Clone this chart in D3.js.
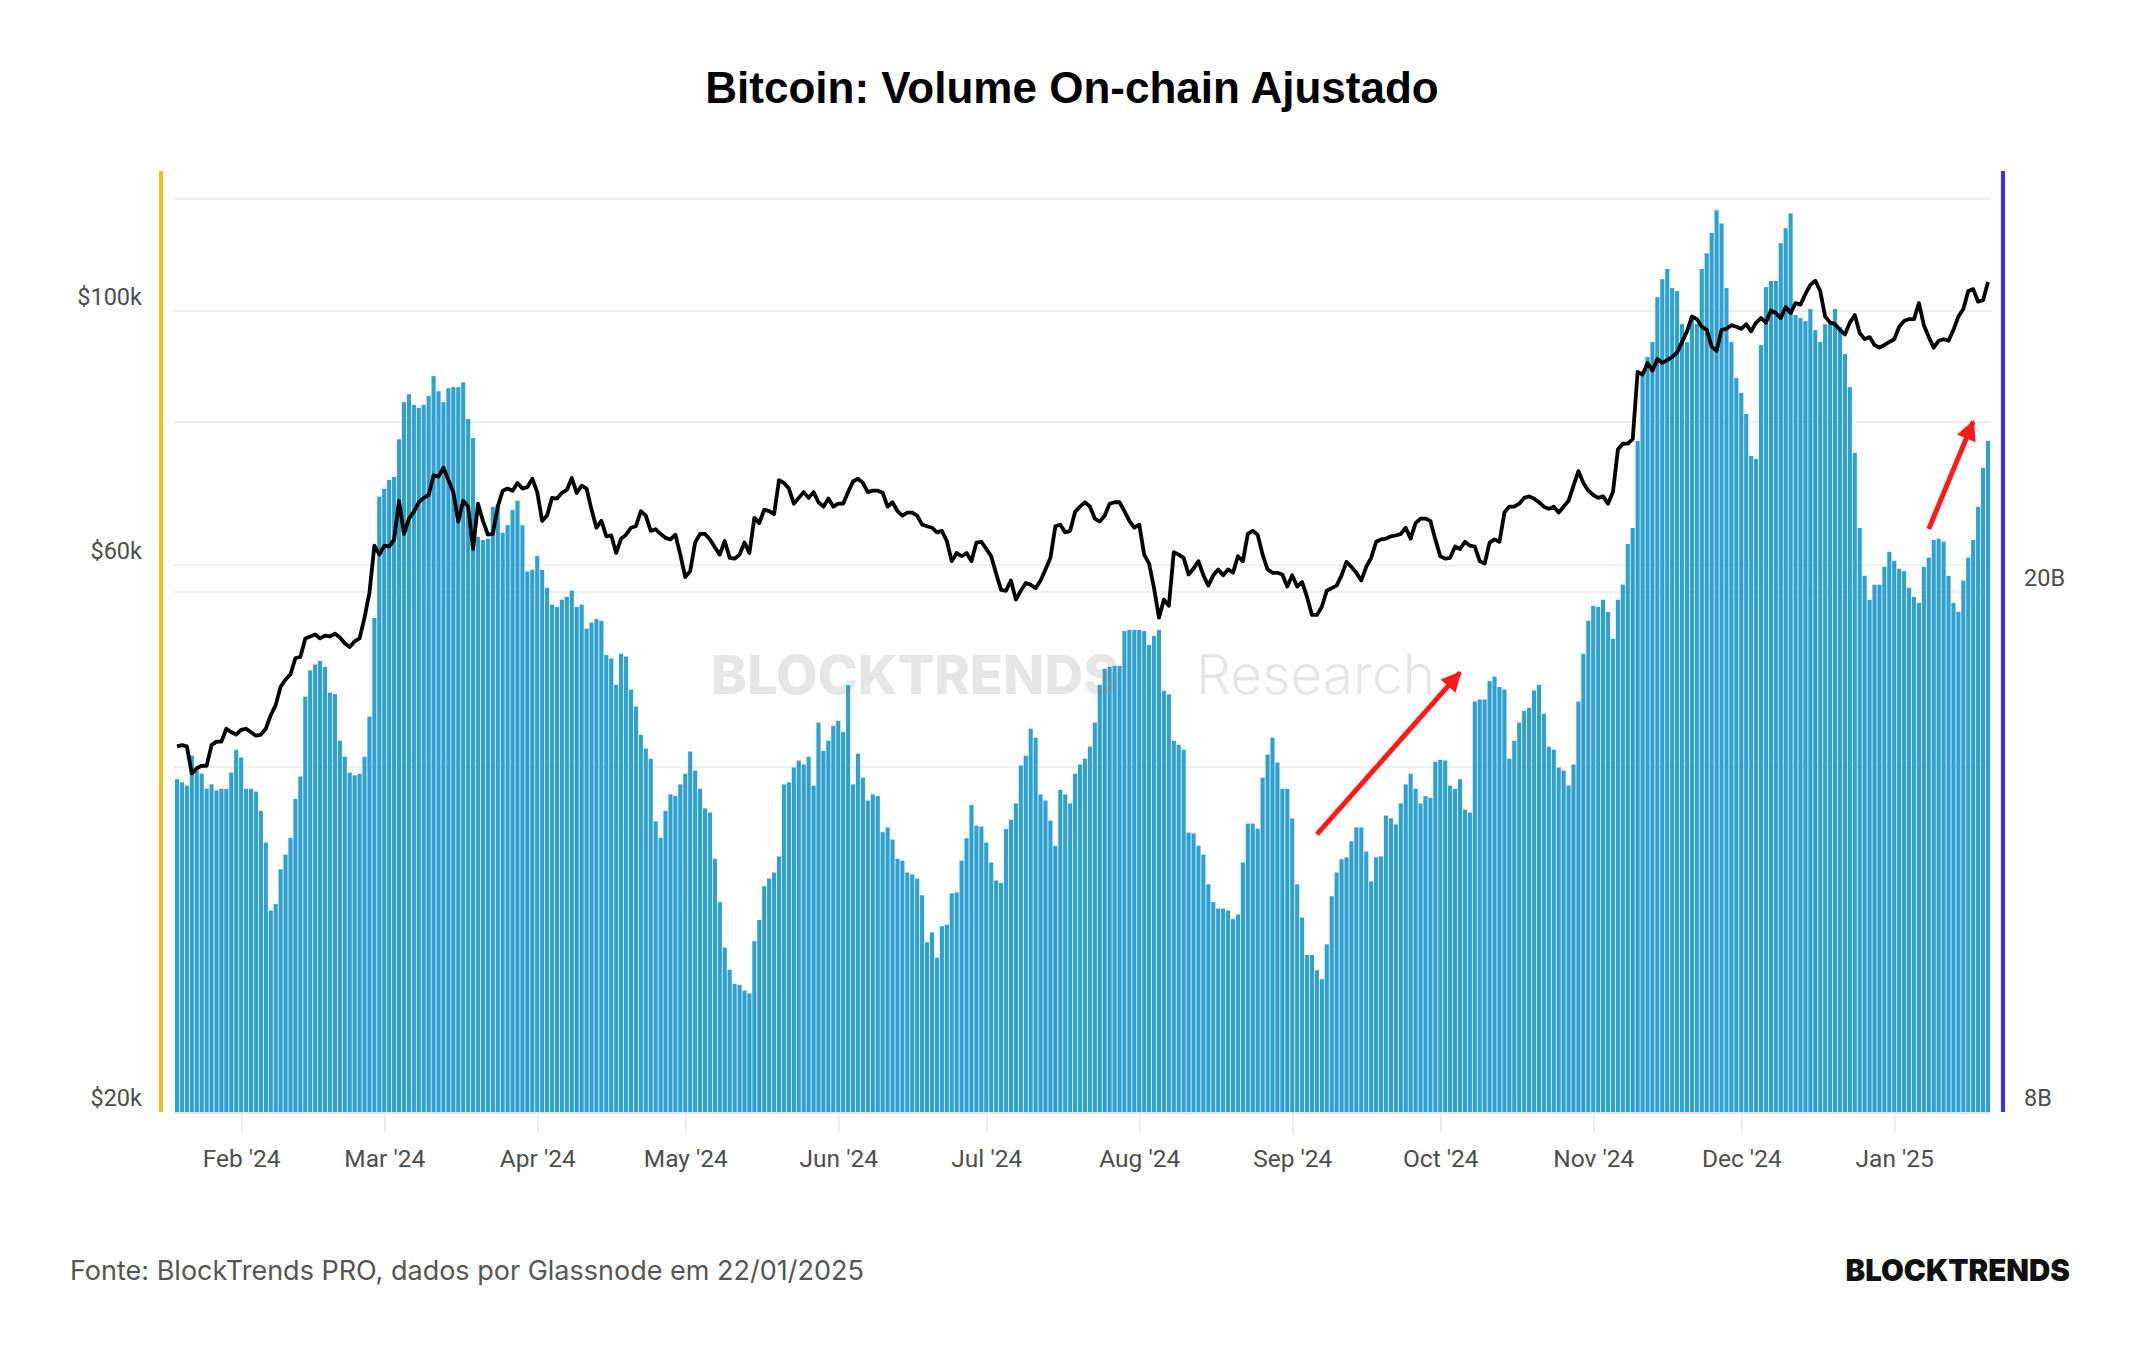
<!DOCTYPE html>
<html>
<head>
<meta charset="utf-8">
<script src="https://cdn.jsdelivr.net/npm/d3@7"></script>
<style>
  body { margin: 0; background: #fff; }
  svg { display: block; }
</style>
</head>
<body>
<div id="chart"></div>
<script>
// Dados (diários, a partir de 19/01/2024)
const startDate = "2024-01-19";

// Volume on-chain ajustado, em bilhões de USD
const volumeB = [
  14.38, 14.30, 14.22, 14.99, 14.60, 14.52, 14.14, 14.25, 14.10, 14.14,
  14.14, 14.55, 15.15, 14.94, 14.14, 14.14, 14.07, 13.60, 12.86, 11.41,
  11.54, 12.27, 12.59, 12.97, 13.89, 14.45, 16.63, 17.42, 17.60, 17.71,
  17.53, 16.75, 16.71, 15.39, 14.96, 14.55, 14.48, 14.52, 14.96, 16.06,
  19.11, 23.66, 23.99, 24.37, 24.50, 26.18, 27.95, 28.34, 27.81, 27.66,
  27.81, 28.25, 29.26, 28.49, 27.95, 28.64, 28.70, 28.70, 28.94, 27.14,
  26.24, 22.04, 21.92, 21.97, 23.24, 23.31, 22.20, 22.50, 23.11, 23.49,
  22.50, 20.74, 20.80, 21.31, 20.80, 20.15, 19.56, 19.48, 19.73, 19.83,
  20.05, 19.48, 19.56, 18.75, 18.95, 19.07, 19.01, 17.90, 17.79, 16.98,
  17.94, 17.85, 16.84, 16.35, 15.55, 15.18, 14.91, 13.35, 12.97, 13.60,
  14.00, 13.96, 14.25, 14.52, 15.10, 14.60, 14.14, 13.66, 13.56, 12.50,
  11.58, 10.69, 10.28, 10.03, 10.01, 9.91, 9.86, 10.81, 11.22, 11.91,
  12.07, 12.20, 12.55,
  14.25, 14.30, 14.68, 14.86, 14.76, 14.96, 14.22, 15.89, 15.12, 15.39,
  15.80, 15.94, 15.63, 16.97, 14.25, 15.04, 14.42, 13.85, 14.00, 13.96,
  13.10, 13.21, 12.93, 12.50, 12.46, 12.20, 12.16, 12.07, 11.72, 10.79,
  10.98, 10.50, 11.10, 11.13, 11.76, 11.78, 12.46, 12.96, 13.74, 13.25,
  13.23, 12.86, 12.42, 12.03, 11.98, 13.17, 13.39, 13.78, 14.73, 14.99,
  15.72, 15.47, 14.00, 13.85, 13.37, 12.79, 14.11, 14.00, 13.78, 14.52,
  14.76, 14.91, 15.23, 15.89, 16.98, 17.47, 17.53, 17.56, 17.56, 18.67,
  18.71, 18.71, 18.71, 18.67, 18.22, 18.51, 18.71, 16.81, 16.70, 15.39,
  15.28, 15.15, 13.09, 13.07, 12.79, 12.59, 11.95, 11.58, 11.45, 11.45,
  11.41, 11.24, 11.33, 12.42, 13.30, 13.30, 13.18, 14.42, 15.02, 15.47,
  14.81, 14.14, 14.14, 13.42, 11.95, 11.27, 10.55, 10.55, 10.27, 10.11,
  10.75, 11.70, 12.20, 12.49, 12.53, 12.89, 13.21, 13.21, 12.66, 12.01,
  12.53, 12.55,
  13.49, 13.42, 13.28, 13.78, 14.25, 14.52, 14.14, 13.78, 13.96, 13.92,
  14.83, 14.88, 14.86, 14.22, 14.14, 14.38, 13.63, 13.56, 16.49, 16.55,
  16.55, 17.10, 17.23, 16.92, 16.84, 14.91, 15.39, 15.89, 16.22, 16.31,
  16.81, 16.98, 16.14, 15.23, 15.15, 14.68, 14.60, 14.22, 14.76, 16.49,
  17.94, 19.01, 19.52, 19.48, 19.73, 19.31, 18.42, 19.73, 20.26, 21.77,
  22.39, 26.10, 29.31, 30.26, 31.07, 33.63, 34.71, 35.34, 34.17, 33.99,
  32.07, 31.07, 32.58, 32.07, 35.34, 36.33, 37.66, 39.19, 38.29, 34.17,
  31.07, 29.16, 28.40, 27.37, 25.42, 25.29, 30.91, 34.23, 34.60, 34.60,
  36.99, 37.97, 38.98, 32.58, 32.41, 32.24, 32.93, 31.73, 31.07, 32.07,
  32.07, 32.93, 31.90, 30.42, 28.70, 25.56, 22.39, 20.58, 19.73, 20.26,
  20.26, 20.91, 21.47, 21.13, 20.84, 20.75, 20.15, 19.83, 19.62, 20.91,
  21.25, 21.92, 21.97, 21.86, 20.58, 19.62, 19.31, 20.41, 21.25, 21.92,
  23.24, 24.89, 26.10
];

// Preço do Bitcoin, em milhares de USD
const priceK = [
  41.7, 41.8, 41.7, 39.5, 39.9, 40.1, 40.1, 41.8, 42.1, 42.1,
  43.2, 42.9, 42.7, 43.1, 43.2, 42.9, 42.6, 42.7, 43.2, 44.4,
  45.3, 47.0, 47.7, 48.2, 49.8, 49.9, 51.8, 52.0, 52.2, 51.8,
  52.1, 52.0, 52.3, 51.9, 51.3, 50.9, 51.5, 51.8, 54.0, 56.8,
  62.4, 61.3, 62.4, 62.3, 63.2, 68.3, 63.9, 65.9, 66.8, 68.1,
  68.7, 69.1, 71.9, 71.7, 73.0, 71.2, 69.5, 65.5, 68.3, 67.5,
  62.0, 67.9, 65.6, 63.8, 63.9, 67.5, 69.7, 70.0, 69.7, 70.8,
  70.0, 70.2, 71.4, 69.5, 65.6, 66.3, 68.7, 68.6, 69.4, 69.8,
  71.5, 69.4, 70.4, 70.0, 67.1, 64.7, 65.6, 63.6, 63.7, 61.5,
  63.3, 63.8, 64.7, 64.9, 66.9, 66.3, 64.3, 64.5, 63.9, 63.4,
  63.2, 63.8, 61.3, 58.6, 59.3, 62.8, 63.9, 63.9, 63.2, 62.2,
  61.3, 63.0, 60.9, 60.8, 61.3, 62.8, 61.5, 66.0, 65.3, 67.1,
  66.9, 66.5, 71.2,
  70.8, 70.0, 67.9, 68.7, 69.5, 68.7, 69.5, 68.1, 67.5, 68.6,
  67.5, 67.9, 67.9, 69.5, 71.0, 71.4, 70.8, 69.5, 69.7, 69.7,
  69.4, 67.5, 68.1, 66.9, 66.3, 66.7, 66.7, 66.3, 65.1, 64.9,
  64.7, 64.1, 64.3, 63.0, 60.5, 61.5, 61.1, 61.5, 60.5, 62.8,
  62.9, 62.0, 61.1, 59.0, 57.1, 57.0, 58.2, 56.0, 57.0, 57.9,
  57.7, 57.3, 58.2, 59.5, 60.9, 64.9, 65.1, 64.1, 64.3, 66.8,
  67.5, 68.1, 67.5, 65.9, 65.5, 66.3, 67.9, 68.1, 68.1, 66.9,
  65.6, 64.7, 65.1, 61.3, 60.2, 57.3, 54.0, 56.0, 55.3, 61.6,
  61.3, 60.9, 58.9, 59.6, 60.5, 58.8, 57.6, 58.8, 59.5, 58.8,
  59.5, 59.1, 61.1, 60.5, 63.9, 64.3, 63.8, 61.3, 59.5, 59.1,
  59.1, 58.9, 57.5, 58.8, 57.5, 58.0, 56.3, 54.3, 54.3, 55.2,
  57.0, 57.3, 57.6, 58.8, 60.4, 59.8, 59.1, 58.2, 59.8, 60.9,
  62.9, 63.2,
  63.3, 63.6, 63.7, 63.9, 64.7, 63.3, 65.3, 65.9, 65.9, 65.6,
  63.2, 61.1, 60.8, 60.9, 62.3, 62.0, 62.9, 62.4, 62.3, 60.5,
  60.2, 62.8, 63.2, 62.9, 66.7, 67.5, 67.5, 67.9, 68.7, 68.9,
  68.6, 68.1, 67.5, 67.2, 67.5, 66.7, 67.5, 68.3, 70.4, 72.5,
  70.8, 69.7, 69.1, 68.7, 68.9, 67.9, 69.5, 75.7, 76.6, 76.6,
  77.3, 88.5, 88.0, 90.1, 88.7, 90.8, 90.1, 90.6, 91.2, 92.0,
  94.0, 96.0, 98.9, 98.4, 96.9, 96.3, 93.1, 92.3, 96.3, 96.5,
  97.2, 96.9, 96.5, 97.4, 96.0, 97.7, 98.6, 97.7, 100.1, 99.6,
  98.6, 100.8, 99.6, 101.6, 101.3, 103.5, 105.4, 106.3, 104.1, 98.9,
  97.7, 97.4, 96.3, 95.4, 97.7, 99.2, 95.7, 94.5, 94.9, 93.4,
  92.9, 93.4, 94.0, 94.5, 96.9, 98.0, 98.4, 98.4, 101.6, 97.2,
  94.9, 92.9, 94.2, 94.5, 94.2, 96.3, 98.9, 100.4, 104.1, 104.5,
  101.9, 102.2, 106.0
];

const monthTicks = ["2024-02-01", "2024-03-01", "2024-04-01", "2024-05-01", "2024-06-01", "2024-07-01",
  "2024-08-01", "2024-09-01", "2024-10-01", "2024-11-01", "2024-12-01", "2025-01-01"];
const priceTickLabels = [20, 60, 100];      // $k, rotulados
const priceGridLines = [40, 60, 80, 100];   // $k
const volumeTickLabels = [8, 20];           // B, rotulados
const volumeGridLines = [20, 40];           // B

// Setas vermelhas (data, volume em B)
const arrows = [
  { from: ["2024-09-06", 13.05], to: ["2024-10-05", 17.35] },
  { from: ["2025-01-08", 22.35], to: ["2025-01-17", 27.0] }
];

// Dimensões
const width = 2144;
const height = 1350;
const plot = { left: 177, right: 1988, top: 171, bottom: 1112 };

const parse = d3.timeParse("%Y-%m-%d");
const day0 = parse(startDate);
const dates = volumeB.map((_, i) => d3.timeDay.offset(day0, i));

const svg = d3.select("#chart")
    .append("svg")
    .attr("width", width)
    .attr("height", height)
    .style("background", "#fff");

// Escalas
const x = d3.scaleTime()
    .domain([dates[0], dates[dates.length - 1]])
    .range([plot.left, plot.right]);

const yPrice = d3.scaleLog()
    .domain([20, 132.5])
    .range([plot.bottom, plot.top]);

const yVol = d3.scaleLog()
    .domain([8, 42])
    .range([plot.bottom, plot.top]);

const gridX0 = plot.left - 3;
const gridX1 = plot.right + 3;

// Linhas de grade
svg.append("g")
    .selectAll("line")
    .data(priceGridLines.map(v => yPrice(v)).concat(volumeGridLines.map(v => yVol(v))))
    .join("line")
    .attr("x1", gridX0)
    .attr("x2", gridX1)
    .attr("y1", d => d)
    .attr("y2", d => d)
    .attr("stroke", "#efefef")
    .attr("stroke-width", 2);

// Eixo X
const xAxis = svg.append("g")
    .attr("transform", `translate(0, ${plot.bottom + 1})`)
    .call(d3.axisBottom(x)
        .tickValues(monthTicks.map(parse))
        .tickFormat(d3.timeFormat("%b '%y"))
        .tickSize(20)
        .tickPadding(17));

xAxis.select(".domain").remove();
xAxis.selectAll(".tick line").attr("stroke", "#e8e8e8").attr("stroke-width", 1.5);
xAxis.selectAll(".tick text")
    .attr("fill", "#4d4d4d")
    .style("font-family", "Roboto, 'Open Sans', sans-serif")
    .style("font-size", "24.5px");

svg.append("line")
    .attr("x1", gridX0)
    .attr("x2", gridX1)
    .attr("y1", plot.bottom + 1)
    .attr("y2", plot.bottom + 1)
    .attr("stroke", "#e4e4e4")
    .attr("stroke-width", 2);

// Barras de volume
const bw = (x(dates[1]) - x(dates[0])) * 0.84;

svg.append("g")
    .selectAll(".bar")
    .data(volumeB)
    .join("rect")
    .attr("class", "bar")
    .attr("x", (d, i) => x(dates[i]) - bw / 2)
    .attr("y", d => yVol(d))
    .attr("width", bw)
    .attr("height", d => plot.bottom - yVol(d))
    .attr("fill", "#30a1cf");

// Marca d'água
const wm = svg.append("g").attr("fill", "rgba(130,130,130,0.21)");
wm.append("text")
    .attr("x", 711)
    .attr("y", 694)
    .style("font-family", "Inter, sans-serif")
    .style("font-weight", 800)
    .style("font-size", "54px")
    .text("BLOCKTRENDS");
wm.append("text")
    .attr("x", 1196)
    .attr("y", 694)
    .style("font-family", "Inter, sans-serif")
    .style("font-weight", 300)
    .style("font-size", "55px")
    .text("Research");

// Linha de preço
const priceLine = d3.line()
    .x((d, i) => x(dates[i]))
    .y(d => yPrice(d));

svg.append("path")
    .datum(priceK)
    .attr("d", priceLine)
    .attr("fill", "none")
    .attr("stroke", "#000")
    .attr("stroke-width", 3.8)
    .attr("stroke-linejoin", "round");

// Setas
svg.append("defs").append("marker")
    .attr("id", "head")
    .attr("markerUnits", "userSpaceOnUse")
    .attr("viewBox", "0 0 10 10")
    .attr("refX", 9)
    .attr("refY", 5)
    .attr("markerWidth", 24)
    .attr("markerHeight", 20)
    .attr("orient", "auto")
    .append("path")
    .attr("d", "M0,0 L10,5 L0,10 Z")
    .attr("fill", "#ff1a1a");

svg.append("g")
    .selectAll("line")
    .data(arrows)
    .join("line")
    .attr("x1", d => x(parse(d.from[0])))
    .attr("y1", d => yVol(d.from[1]))
    .attr("x2", d => x(parse(d.to[0])))
    .attr("y2", d => yVol(d.to[1]))
    .attr("stroke", "#ff1a1a")
    .attr("stroke-width", 5)
    .attr("marker-end", "url(#head)");

// Eixos verticais coloridos
svg.append("line")
    .attr("x1", 161).attr("x2", 161)
    .attr("y1", plot.top).attr("y2", plot.bottom)
    .attr("stroke", "#e6c41e")
    .attr("stroke-width", 4);

svg.append("line")
    .attr("x1", 2003).attr("x2", 2003)
    .attr("y1", plot.top).attr("y2", plot.bottom)
    .attr("stroke", "#3b2cfb")
    .attr("stroke-width", 4);

// Rótulos dos eixos Y
svg.append("g")
    .selectAll("text")
    .data(priceTickLabels)
    .join("text")
    .attr("x", 142)
    .attr("y", d => yPrice(d) - 14)
    .attr("text-anchor", "end")
    .attr("dominant-baseline", "central")
    .attr("fill", "#4d4d4d")
    .style("font-family", "Roboto, sans-serif")
    .style("font-size", "23.5px")
    .text(d => `$${d}k`);

svg.append("g")
    .selectAll("text")
    .data(volumeTickLabels)
    .join("text")
    .attr("x", 2024)
    .attr("y", d => yVol(d) - 14)
    .attr("dominant-baseline", "central")
    .attr("fill", "#4d4d4d")
    .style("font-family", "Roboto, sans-serif")
    .style("font-size", "23.5px")
    .text(d => `${d}B`);

// Título
svg.append("text")
    .attr("x", 1072)
    .attr("y", 103)
    .attr("text-anchor", "middle")
    .attr("fill", "#000")
    .style("font-family", "'Liberation Sans', Arial, sans-serif")
    .style("font-weight", 700)
    .style("font-size", "44px")
    .text("Bitcoin: Volume On-chain Ajustado");

// Rodapé
svg.append("text")
    .attr("x", 70)
    .attr("y", 1280)
    .attr("fill", "#555")
    .style("font-family", "Inter, sans-serif")
    .style("font-size", "27px")
    .text("Fonte: BlockTrends PRO, dados por Glassnode em 22/01/2025");

svg.append("text")
    .attr("x", 2070)
    .attr("y", 1281)
    .attr("text-anchor", "end")
    .attr("fill", "#111")
    .style("font-family", "Inter, sans-serif")
    .style("font-weight", 900)
    .style("font-size", "29.5px")
    .text("BLOCKTRENDS");
</script>
</body>
</html>
